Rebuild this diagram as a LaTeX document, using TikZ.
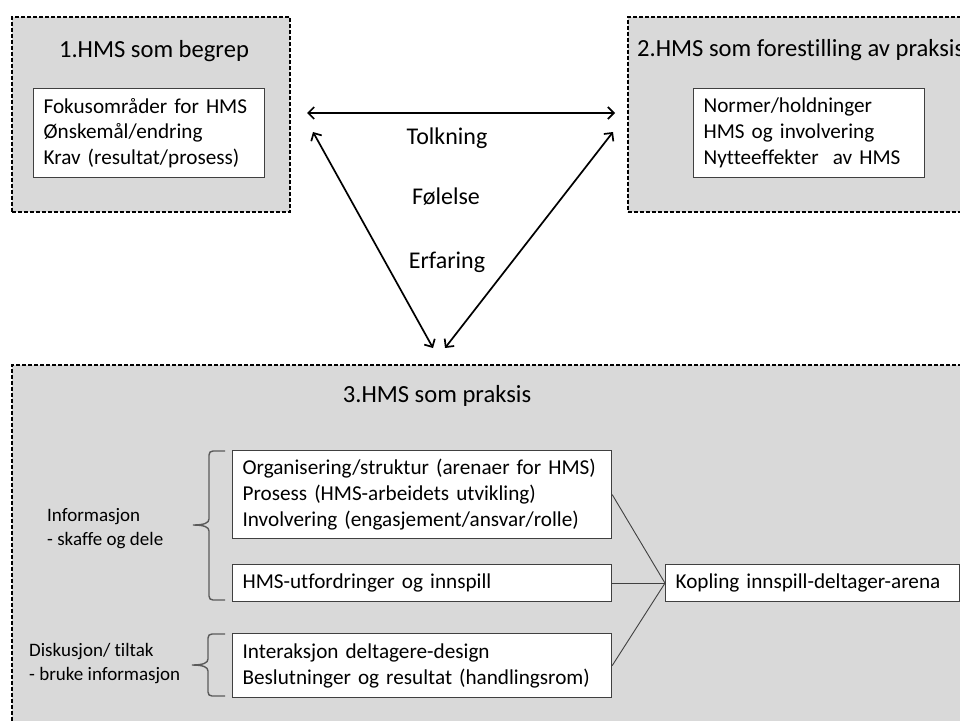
\documentclass[tikz,border=0pt]{standalone}
\usepackage{fontspec}
\setmainfont{Carlito}[Ligatures=NoCommon]
\usetikzlibrary{arrows.meta}
\definecolor{panelgray}{RGB}{217,217,217}
\definecolor{edgegray}{RGB}{64,64,64}
\definecolor{bracegray}{RGB}{90,90,90}
\tikzset{
  panel/.style={draw=black, line width=1.6pt, dash pattern=on 4pt off 2pt,
    fill=panelgray, anchor=north west, inner sep=0pt},
  itembox/.style={draw=edgegray, line width=1.2pt, fill=white, anchor=north west,
    inner xsep=10pt, inner ysep=0pt, align=left,
    font=\fontsize{21.2}{25.8}\selectfont},
  heading/.style={font=\fontsize{24.6}{28}\selectfont, inner sep=0pt},
  cue/.style={font=\fontsize{24}{28}\selectfont, inner sep=0pt},
  side/.style={font=\fontsize{19}{24}\selectfont, align=left, anchor=west, inner sep=0pt},
  link/.style={draw=edgegray, line width=0.9pt},
  twoway/.style={<->, line width=1.7pt, >={Straight Barb[length=6pt,width=12pt]}},
  bracket/.style={draw=bracegray, line width=1.4pt},
}
\begin{document}
\begin{tikzpicture}[x=1pt,y=-1pt]
\useasboundingbox (0,0) rectangle (960,720);
\clip (0,0) rectangle (960,720);

% three dashed panels
\node[panel, minimum width=278pt, minimum height=195pt] (p1) at (11,16) {};
\node[panel, minimum width=420pt, minimum height=195pt] (p2) at (627,16) {};
\node[panel, minimum width=1000pt, minimum height=420pt] (p3) at (11,364) {};

% panel headings
\node[heading] (t1) at (154,51) {1.HMS som begrep};
\node[heading, anchor=west] (t2) at (637,50) {2.HMS som forestilling av praksis};
\node[heading] (t3) at (437,396) {3.HMS som praksis};

% contents of panels 1 and 2
\node[itembox, text width=211pt, minimum height=89pt] (c1) at (33,88)
  {Fokusområder for HMS\\Ønskemål/endring\\Krav (resultat/prosess)};
\node[itembox, text width=211pt, minimum height=89pt] (c2) at (693,88)
  {Normer/holdninger\\HMS og involvering\\Nytteeffekter\ \ av HMS};

% triangle of two-way arrows
\coordinate (h1) at (307,113);
\coordinate (h2) at (615,113);
\coordinate (l1) at (313,132);
\coordinate (l2) at (433,348);
\coordinate (r1) at (613,132);
\coordinate (r2) at (445,348);
\draw[twoway] (h1) -- (h2);
\draw[twoway] (l1) -- (l2);
\draw[twoway] (r1) -- (r2);

\node[cue] (w1) at (447,138) {Tolkning};
\node[cue] (w2) at (446,197) {Følelse};
\node[cue] (w3) at (447,262) {Erfaring};

% practice panel
\node[itembox, text width=359pt, minimum height=88pt] (a) at (232,450)
  {Organisering/struktur (arenaer for HMS)\\Prosess (HMS-arbeidets utvikling)\\Involvering (engasjement/ansvar/rolle)};
\node[itembox, text width=359pt, minimum height=37pt] (b) at (232,564)
  {HMS-utfordringer og innspill};
\node[itembox, text width=359pt, minimum height=64pt] (c) at (232,633)
  {Interaksjon deltagere-design\\Beslutninger og resultat (handlingsrom)};
\node[itembox, text width=274pt, minimum height=37pt] (k) at (665,564)
  {Kopling innspill-deltager-arena};

\draw[link] (a.east) -- (k.west);
\draw[link] (b.east) -- (k.west);
\draw[link] (c.east) -- (k.west);

% curly braces grouping the boxes
\draw[bracket] (225,451) -- (213,451) .. controls (210.5,451) and (209,452.5) .. (209,455)
  -- (209,519) .. controls (209,523) and (204,525) .. (193,525)
  .. controls (204,525) and (209,527) .. (209,531)
  -- (209,596) .. controls (209,598.5) and (210.5,600) .. (213,600) -- (225,600);
\draw[bracket] (225,634) -- (212,634) .. controls (209.5,634) and (208,635.5) .. (208,638)
  -- (208,659) .. controls (208,663) and (203,665) .. (192,665)
  .. controls (203,665) and (208,667) .. (208,671)
  -- (208,692) .. controls (208,694.5) and (209.5,696) .. (212,696) -- (225,696);

\node[side] (s1) at (47,529) {Informasjon\\ - skaffe og dele};
\node[side] (s2) at (29,663.5) {Diskusjon/ tiltak\\- bruke informasjon};
\end{tikzpicture}
\end{document}
